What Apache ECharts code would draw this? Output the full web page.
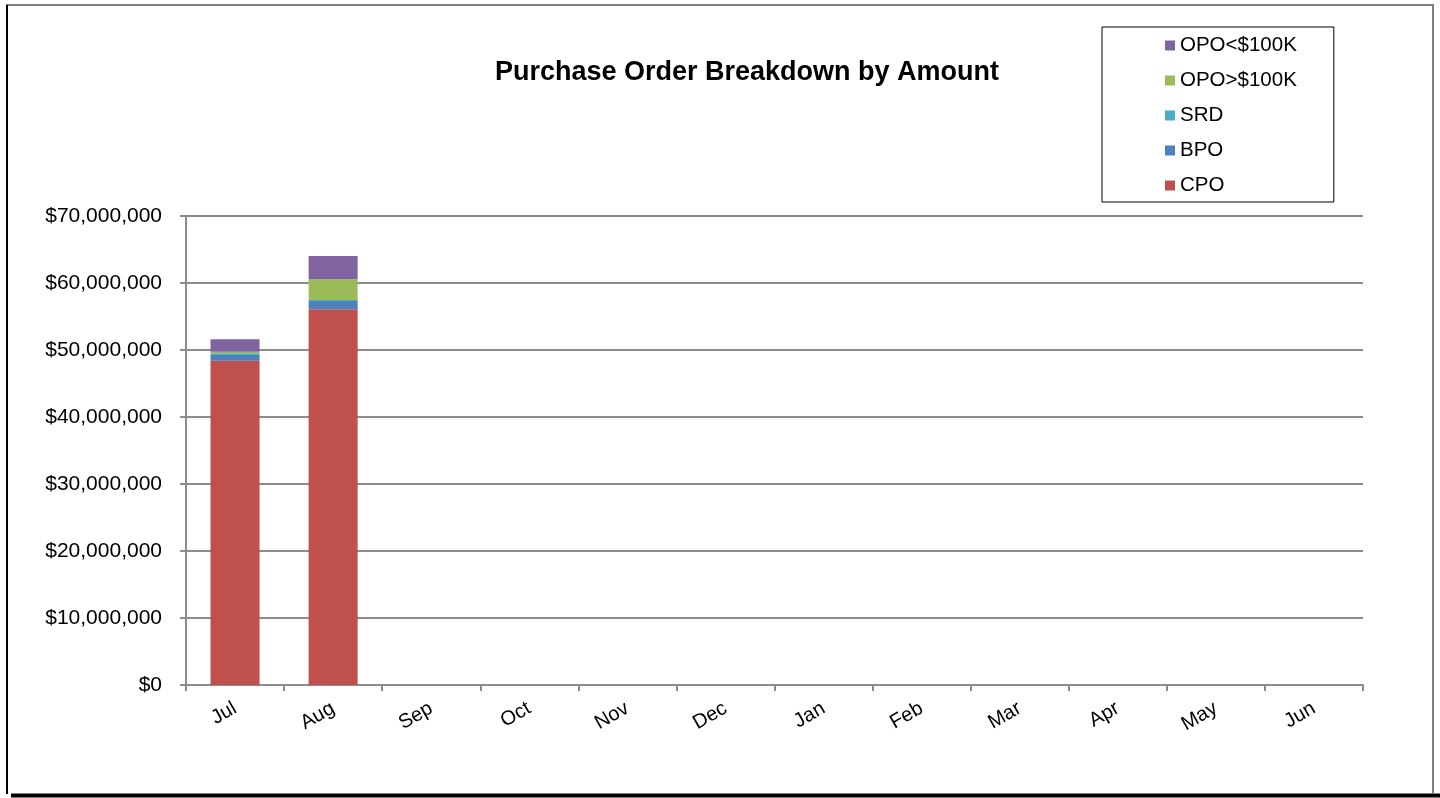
<!DOCTYPE html>
<html>
<head>
<meta charset="utf-8">
<title>Purchase Order Breakdown by Amount</title>
<script src="https://cdn.jsdelivr.net/npm/echarts@6/dist/echarts.min.js"></script>
<style>
  html, body { margin: 0; padding: 0; background: #fff; }
  #main { width: 1440px; height: 798px; }
</style>
</head>
<body>
<div id="main"></div>
<script>
const months = ['Jul', 'Aug', 'Sep', 'Oct', 'Nov', 'Dec', 'Jan', 'Feb', 'Mar', 'Apr', 'May', 'Jun']
// only Jul and Aug have values so far
const cpo = [48400000, 56070000, null, null, null, null, null, null, null, null, null, null]
const bpo = [850000, 1240000, null, null, null, null, null, null, null, null, null, null]
const srd = [250000, 150000, null, null, null, null, null, null, null, null, null, null]
const opoOver = [250000, 3090000, null, null, null, null, null, null, null, null, null, null]
const opoUnder = [1850000, 3480000, null, null, null, null, null, null, null, null, null, null]
const yTicks = [0, 10000000, 20000000, 30000000, 40000000, 50000000, 60000000, 70000000]

const font = 'Liberation Sans, Arial, sans-serif'
const gridColor = '#8c8c8c'

function money(v) {
  return '$' + Math.round(v).toString().replace(/\B(?=(\d{3})+(?!\d))/g, ',')
}

function bar(name, data, color) {
  return {
    name: name,
    type: 'bar',
    stack: 'po',
    barWidth: '50%',
    data: data,
    itemStyle: { color: color },
    emphasis: { disabled: true },
  }
}

const myChart = echarts.init(document.getElementById('main'))
const option = {
  animation: false,
  backgroundColor: '#fff',
  textStyle: { fontFamily: font },
  title: {
    text: 'Purchase Order Breakdown by Amount',
    left: 742,
    top: 54,
    textAlign: 'center',
    textStyle: { fontFamily: font, fontSize: 27, fontWeight: 'bold', color: '#000' },
  },
  legend: {
    orient: 'vertical',
    left: 1102,
    top: 27,
    padding: [8, 37, 6, 63],
    itemGap: 14,
    itemWidth: 10,
    itemHeight: 10,
    icon: 'rect',
    borderColor: '#000',
    borderWidth: 1,
    textStyle: { fontFamily: font, fontSize: 20.5, color: '#000' },
    data: ['OPO<$100K', 'OPO>$100K', 'SRD', 'BPO', 'CPO'],
  },
  grid: { left: 186, right: 77, top: 216, bottom: 113, containLabel: false },
  xAxis: {
    type: 'category',
    data: months,
    axisLine: { lineStyle: { color: gridColor, width: 2 } },
    axisTick: { show: true, length: 6, lineStyle: { color: gridColor, width: 2 } },
    axisLabel: { rotate: 30, margin: 22, fontFamily: font, fontSize: 20, color: '#000' },
  },
  yAxis: {
    type: 'value',
    min: yTicks[0],
    max: yTicks[yTicks.length - 1],
    interval: 10000000,
    axisLine: { show: true, lineStyle: { color: gridColor, width: 2 } },
    axisTick: { show: true, length: 6, lineStyle: { color: gridColor, width: 2 } },
    splitLine: { lineStyle: { color: gridColor, width: 2 } },
    axisLabel: { formatter: money, margin: 24, fontFamily: font, fontSize: 21, color: '#000' },
  },
  graphic: [
    // outer chart frame with dark shadow on left/bottom
    { type: 'polyline', silent: true, shape: { points: [[7, 794], [7, 5], [1433, 5], [1433, 793]] },
      style: { fill: null, stroke: '#7f7f7f', lineWidth: 2 } },
    { type: 'line', silent: true, shape: { x1: 7, y1: 5, x2: 7, y2: 794 },
      style: { stroke: '#000', lineWidth: 2 } },
    { type: 'line', silent: true, shape: { x1: 11, y1: 795.5, x2: 1440, y2: 795.5 },
      style: { stroke: '#000', lineWidth: 4 } },
  ],
  series: [
    bar('CPO', cpo, '#C0504D'),
    bar('BPO', bpo, '#4F81BD'),
    bar('SRD', srd, '#4BACC6'),
    bar('OPO>$100K', opoOver, '#9BBB59'),
    bar('OPO<$100K', opoUnder, '#8064A2'),
  ],
}
myChart.setOption(option)
</script>
</body>
</html>
